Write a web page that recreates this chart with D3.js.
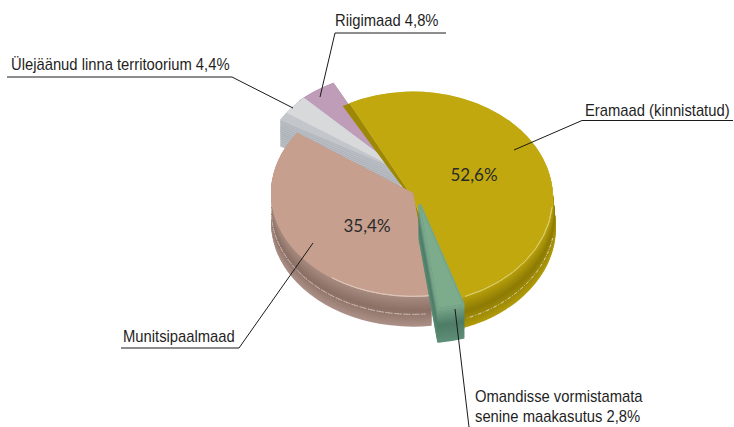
<!DOCTYPE html>
<html><head><meta charset="utf-8">
<script src="https://cdn.jsdelivr.net/npm/d3@7"></script>
<style>html,body{margin:0;background:#fff}svg{display:block}</style>
</head><body><svg id="c" width="734" height="427"></svg>
<script>
const names = ["Eramaad (kinnistatud)","Omandisse vormistamata senine maakasutus","Munitsipaalmaad","Ülejäänud linna territoorium","Riigimaad"];
const shares = [52.6,2.8,35.4,4.4,4.8];
const topColors = ["#c0a80e","#7dac8c","#c69f8e","#d8d9da","#bf9cb8"];
const sideTop = ["#b8a00c","#7aa88c","#a98c80","#b3b7bd","#a98aa2"];
const sideMid = ["#8d7b05","#4e7c66","#8c7066","#a9adb4","#a98aa2"];
const sideEnd = ["#b09a0a","#5f8f78","#ab9087","#b3b7bd","#a98aa2"];
const bevelColors = ["#9c8806","#5c8a72","#c69f8e","#c3c6cb","#a88aa2"];
const rimColors = ["#d9cc70",null,"#dcc6bb",null,null];
const originX = [413,420,413,403,398];
const originY = [198,205,193,172,175];
const radii = [140,142,142,142,142];
const squashes = [0.76,0.73,0.73,0.73,0.73];
const depths = [30,34,30,26,0];
const sideShift = [3,0,0,0,0];
const drawOrder = [4,3,0,2,1];
const innerLabels = [{i:0,t:"52,6%",x:474,y:181},{i:2,t:"35,4%",x:367,y:232}];

const svg = d3.select("#c");
const rad = Math.PI/180;
const start = -27*rad;
const arcs = d3.pie().sort(null).startAngle(start).endAngle(start+2*Math.PI)(shares);
const layerSteps = d3.range(0,1.001,0.04).reverse();

// face geometry adjustments, in degrees
const sideFrom = [70,0,0,0,0];
const faceInsetStart = [0,0,0,5,1.5];
const bevelStart = [-2.2,0,0,0,0];
const bevelEnd = [0,0,5.5,0,0];
const highlight = [[100,158,0.72],null,[175,290,0.6],null,null];

drawOrder.forEach(i=>{
  const a = arcs[i];
  const R = radii[i], squash = squashes[i];
  const arc = d3.arc().innerRadius(0).outerRadius(R);
  const g = svg.append("g").attr("transform",`translate(${originX[i]},${originY[i]}) scale(1,${squash})`);
  const sideArc = {startAngle:a.startAngle+sideFrom[i]*rad,endAngle:a.endAngle+bevelEnd[i]*rad};
  const sideColor = d3.scaleLinear().domain([0,0.5,1]).range([sideTop[i],sideMid[i],sideEnd[i]]);
  if(depths[i]>0) layerSteps.forEach((s,k)=>{
    let shade = sideColor(s);
    if(i===3 && k%2) shade = "#bcc0c6";
    const p = g.append("path").attr("d",arc(sideArc))
      .attr("transform",`translate(${s*sideShift[i]},${s*depths[i]/squash})`)
      .attr("fill",shade);
    if(i===1) p.attr("stroke",shade).attr("stroke-width",3).attr("stroke-linejoin","round");
  });
  const ln = d3.arc().innerRadius(R-0.4).outerRadius(R-0.4);
  if(highlight[i]){
    const h = highlight[i];
    g.append("path").attr("d",ln({startAngle:h[0]*rad,endAngle:h[1]*rad}))
      .attr("transform",`translate(${h[2]*sideShift[i]},${h[2]*depths[i]/squash})`)
      .attr("fill","none").attr("stroke","#efe7df").attr("stroke-opacity",0.7).attr("stroke-width",0.8).attr("stroke-dasharray","4 2 1 2");
  }
  g.append("path").attr("d",arc({startAngle:a.startAngle+bevelStart[i]*rad,endAngle:a.endAngle+bevelEnd[i]*rad}))
    .attr("transform",i===0?"translate(-2,1)":null).attr("fill",bevelColors[i]);
  if(i===0){
    g.append("path").attr("d",arc({startAngle:a.startAngle,endAngle:a.endAngle+1.6*rad})).attr("fill","#d6c96a");
  }
  const faceEnd = i===2 ? a.endAngle+bevelEnd[i]*rad : a.endAngle;
  g.append("path").attr("d",arc({startAngle:a.startAngle+faceInsetStart[i]*rad,endAngle:faceEnd})).attr("fill",topColors[i]);
  if(rimColors[i]){
    g.append("path").attr("d",ln({startAngle:(i===0?95:170)*rad,endAngle:(i===0?158:215)*rad}))
      .attr("fill","none").attr("stroke",rimColors[i]).attr("stroke-width",1);
  }
});

const leaders = [
 [[335,33],[446,33]],[[335,33],[320,97]],
 [[7,77],[232,77]],[[232,77],[293,108]],
 [[582,120.5],[733,120.5]],[[582,120.5],[514,150]],
 [[121,348],[239,348]],[[239,348],[313,243]],
 [[455,309],[469,427]]
];
const line = d3.line();
leaders.forEach(l=>svg.append("path").attr("d",line(l)).attr("stroke","#1a1a1a").attr("fill","none").attr("stroke-width",1));

const textFont = "'Liberation Sans',Arial,sans-serif";
const outerLabels = [
 {t:"Riigimaad 4,8%",x:335,y:26},
 {t:"Ülejäänud linna territoorium 4,4%",x:11,y:70},
 {t:"Eramaad (kinnistatud)",x:585,y:116},
 {t:"Munitsipaalmaad",x:123,y:342},
 {t:"Omandisse vormistamata",x:475,y:402},
 {t:"senine maakasutus 2,8%",x:475,y:422}
];
outerLabels.forEach(d=>svg.append("text").attr("transform",`translate(${d.x},${d.y}) scale(0.87,1)`).text(d.t)
  .attr("font-family",textFont).attr("font-size",17).attr("fill","#1f1f1f"));
innerLabels.forEach(d=>svg.append("text").attr("x",d.x).attr("y",d.y).attr("text-anchor","middle").text(d.t)
  .attr("font-family","Lato,'Noto Sans',sans-serif").attr("font-size",17).attr("fill","#2a2a2a"));
</script></body></html>
